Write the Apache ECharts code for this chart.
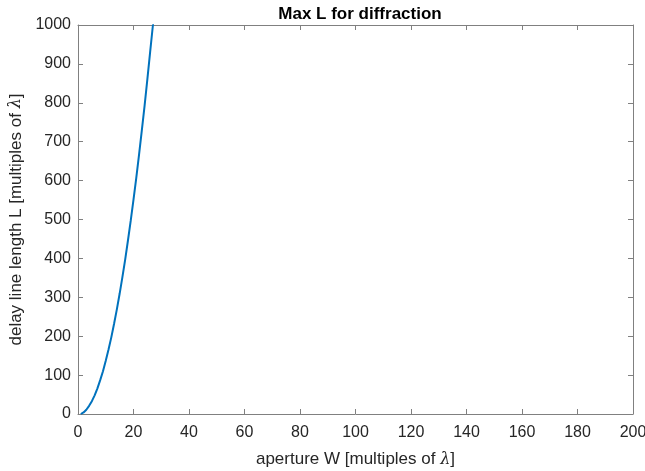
<!DOCTYPE html>
<html><head><meta charset="utf-8">
<script src="https://cdn.jsdelivr.net/npm/echarts@6/dist/echarts.min.js"></script>
<style>html,body{margin:0;padding:0;background:#fff}#c{width:645px;height:471px}</style>
</head><body><div id="c"></div>
<script>
// aperture W [multiples of lambda]
const apertureW = [1, 2, 3, 4, 5, 6, 7, 8, 9, 10, 11, 12, 13, 14, 15, 16, 17, 18, 19, 20, 21, 22, 23, 24, 25, 26, 27, 27.3];
// delay line length L [multiples of lambda]
const delayL = [0, 4, 11, 21, 33, 48, 66, 87, 110, 137, 166, 197, 232, 269, 309, 352, 397, 446, 497, 551, 607, 667, 729, 793, 861, 931, 1000, 1000];
const xTicks = {min: 0, max: 200, interval: 20};
const yTicks = {min: 0, max: 1000, interval: 100};
const titleText = 'Max L for diffraction';

const axisCol = '#808080';
const labCol = '#262626';
const font = 'Liberation Sans, Arial, Helvetica, sans-serif';
const data = apertureW.map((w, i) => [w, delayL[i]]);

function ax(extra) {
  return Object.assign({
    type: 'value',
    axisLine: {show: true, onZero: false, lineStyle: {color: axisCol, width: 1}},
    axisTick: {show: true, inside: true, length: 5, lineStyle: {color: axisCol}},
    splitLine: {show: false},
    axisLabel: {color: labCol, fontFamily: font, fontSize: 16}
  }, extra);
}
const nameRich = {
  t: {fontFamily: font, fontSize: 17, color: labCol},
  g: {fontFamily: 'DejaVu Serif, serif', fontStyle: 'italic', fontSize: 16, color: labCol}
};

const chart = echarts.init(document.getElementById('c'));
chart.setOption({
  animation: false,
  title: {text: titleText, left: 355, top: 1, textAlign: 'center',
    textStyle: {fontFamily: font, fontSize: 17, fontWeight: 'bold', color: '#000'}},
  grid: {left: 78, right: 12, top: 25, bottom: 57, containLabel: false, outerBoundsMode: 'none'},
  xAxis: [
    ax(Object.assign({}, xTicks, {position: 'bottom',
      axisLabel: {color: labCol, fontFamily: font, fontSize: 16, margin: 11},
      name: '{t|aperture W [multiples of }{g|λ}{t|]}', nameLocation: 'middle', nameGap: 37,
      nameTextStyle: {rich: nameRich}})),
    ax(Object.assign({}, xTicks, {position: 'top', axisLabel: {show: false}}))
  ],
  yAxis: [
    ax(Object.assign({}, yTicks, {position: 'left',
      axisLabel: {color: labCol, fontFamily: font, fontSize: 16, margin: 7, formatter: v => String(v)},
      name: '{t|delay line length L [multiples of }{g|λ}{t|]}', nameLocation: 'middle', nameGap: 46, nameRotate: 90,
      nameTextStyle: {rich: nameRich}})),
    ax(Object.assign({}, yTicks, {position: 'right', axisLabel: {show: false}}))
  ],
  series: [{
    type: 'line', data: data, showSymbol: false, smooth: false, clip: true,
    lineStyle: {color: '#0072BD', width: 2}
  }]
});
</script></body></html>
